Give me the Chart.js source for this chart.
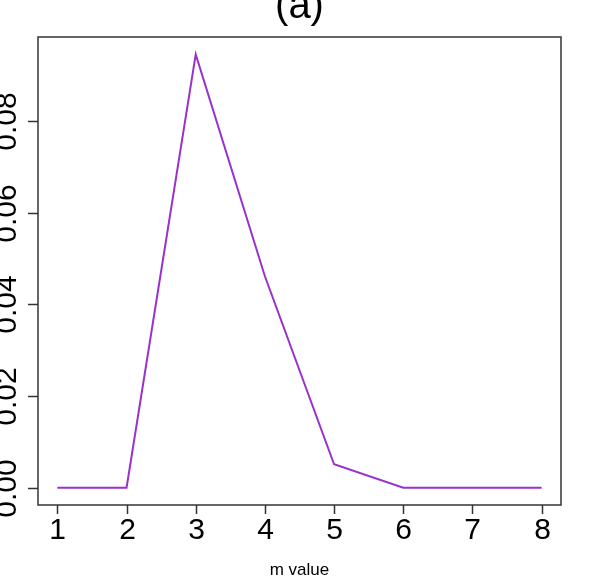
<!DOCTYPE html>
<html>
<head>
<meta charset="utf-8">
<script src="https://cdn.jsdelivr.net/npm/chart.js@4"></script>
<style>
  html, body { margin: 0; padding: 0; background: #fff; }
  #wrap { width: 598px; height: 581px; }
</style>
</head>
<body>
<div id="wrap"><canvas id="grafico" width="598" height="581"></canvas></div>
<script>
// datos
const mValores = [1, 2, 3, 4, 5, 6, 7, 8];
const valores = [0, 0, 0.0945, 0.0461, 0.0051, 0, 0, 0];
const ticksX = [1, 2, 3, 4, 5, 6, 7, 8];
const ticksY = [0, 0.02, 0.04, 0.06, 0.08];
const etiquetasY = ['0.00', '0.02', '0.04', '0.06', '0.08'];
const titulo = '(a)';
const tituloX = 'm value';

// rango estilo R: 4% extra a cada lado
const xMin = Math.min(...mValores), xMax = Math.max(...mValores);
const yMin = Math.min(...valores), yMax = Math.max(...valores);
const dx = (xMax - xMin) * 0.04, dy = (yMax - yMin) * 0.04;

const ejesR = {
    id: 'ejesR',
    afterDraw(chart) {
        const ctx = chart.ctx;
        const a = chart.chartArea;
        const sx = chart.scales.x, sy = chart.scales.y;
        ctx.save();
        ctx.strokeStyle = '#333';
        ctx.lineWidth = 1.5;
        ctx.strokeRect(a.left, a.top, a.right - a.left, a.bottom - a.top);

        ctx.fillStyle = '#000';
        ctx.font = '30px "Liberation Sans", Arial, sans-serif';

        // eje x
        ctx.textAlign = 'center';
        ctx.textBaseline = 'alphabetic';
        ticksX.forEach(function(v) {
            const px = Math.round(sx.getPixelForValue(v)) + 0.5;
            ctx.beginPath();
            ctx.moveTo(px, a.bottom);
            ctx.lineTo(px, a.bottom + 9);
            ctx.stroke();
            ctx.fillText(String(v), px, a.bottom + 34);
        });

        // eje y, etiquetas giradas
        ticksY.forEach(function(v, i) {
            const py = Math.round(sy.getPixelForValue(v)) + 0.5;
            ctx.beginPath();
            ctx.moveTo(a.left, py);
            ctx.lineTo(a.left - 10, py);
            ctx.stroke();
            ctx.save();
            ctx.translate(16, py);
            ctx.rotate(-Math.PI / 2);
            ctx.fillText(etiquetasY[i], 0, 0);
            ctx.restore();
        });

        // título
        ctx.font = '40px "Liberation Sans", Arial, sans-serif';
        ctx.fillText(titulo, (a.left + a.right) / 2, 18);

        // etiqueta del eje x
        ctx.font = '17px "Liberation Sans", Arial, sans-serif';
        ctx.fillText(tituloX, (a.left + a.right) / 2, 575);
        ctx.restore();
    }
};

new Chart(document.getElementById('grafico'), {
    type: 'line',
    data: {
        datasets: [{
            data: mValores.map(function(m, i) { return { x: m, y: valores[i] }; }),
            borderColor: '#9932CC',
            borderWidth: 2,
            pointRadius: 0,
            tension: 0,
            fill: false
        }]
    },
    options: {
        responsive: false,
        animation: false,
        layout: { padding: { left: 38, right: 37, top: 37, bottom: 76 } },
        plugins: {
            legend: { display: false },
            title: { display: false },
            tooltip: { enabled: false }
        },
        scales: {
            x: { type: 'linear', display: false, min: xMin - dx, max: xMax + dx },
            y: { type: 'linear', display: false, min: yMin - dy, max: yMax + dy }
        }
    },
    plugins: [ejesR]
});
</script>
</body>
</html>
